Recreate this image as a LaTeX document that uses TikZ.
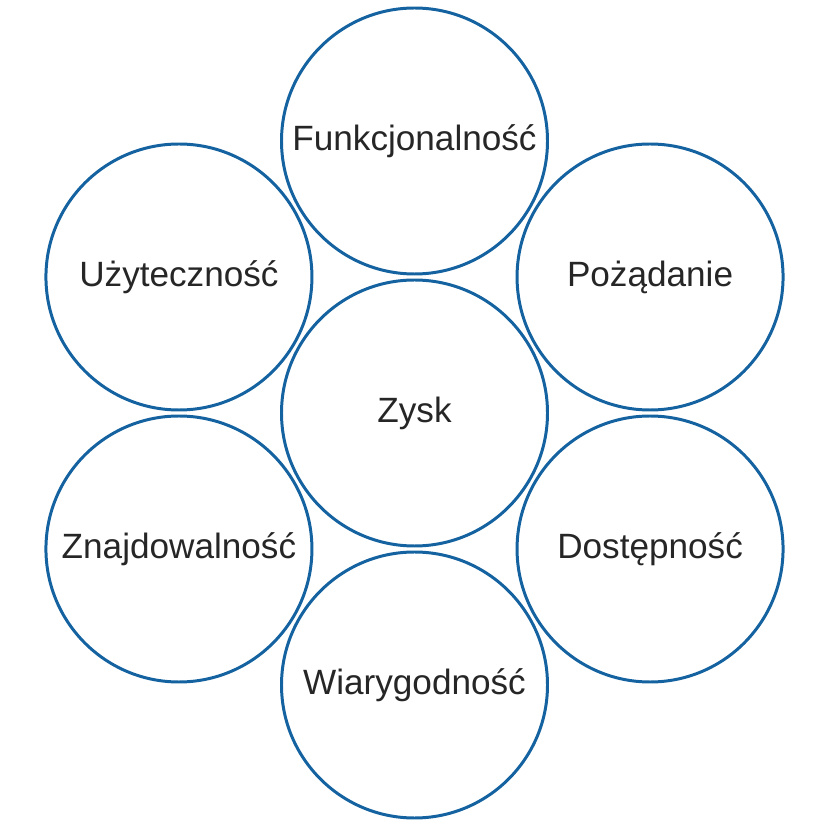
\documentclass[tikz,border=0pt]{standalone}
\usepackage{fontspec}
\setmainfont{Liberation Sans}
\usepackage{xcolor}
\usepackage{tikz}

\definecolor{ringblue}{HTML}{1462A0}
\definecolor{labelgray}{HTML}{262626}

\begin{document}
\begin{tikzpicture}[
    ring/.style={circle, draw=ringblue, line width=0.85pt, minimum size=2.66cm, inner sep=0pt, text=labelgray, font=\fontsize{10}{12}\selectfont}
  ]
    % Page frame
    \useasboundingbox (0,0) rectangle (8.28,8.28);

    % Centre
    \node[ring] (zysk) at (4.145,4.15) {Zysk};

    % Surrounding circles
    \node[ring] (funk) at ([shift={(90:2.72)}]zysk) {Funkcjonalność};
    \node[ring] (poz)  at ([shift={(30:2.72)}]zysk) {Pożądanie};
    \node[ring] (dost) at ([shift={(-30:2.72)}]zysk) {Dostępność};
    \node[ring] (wiar) at ([shift={(-90:2.72)}]zysk) {Wiarygodność};
    \node[ring] (znaj) at ([shift={(210:2.72)}]zysk) {Znajdowalność};
    \node[ring] (uzyt) at ([shift={(150:2.72)}]zysk) {Użyteczność};
\end{tikzpicture}
\end{document}
